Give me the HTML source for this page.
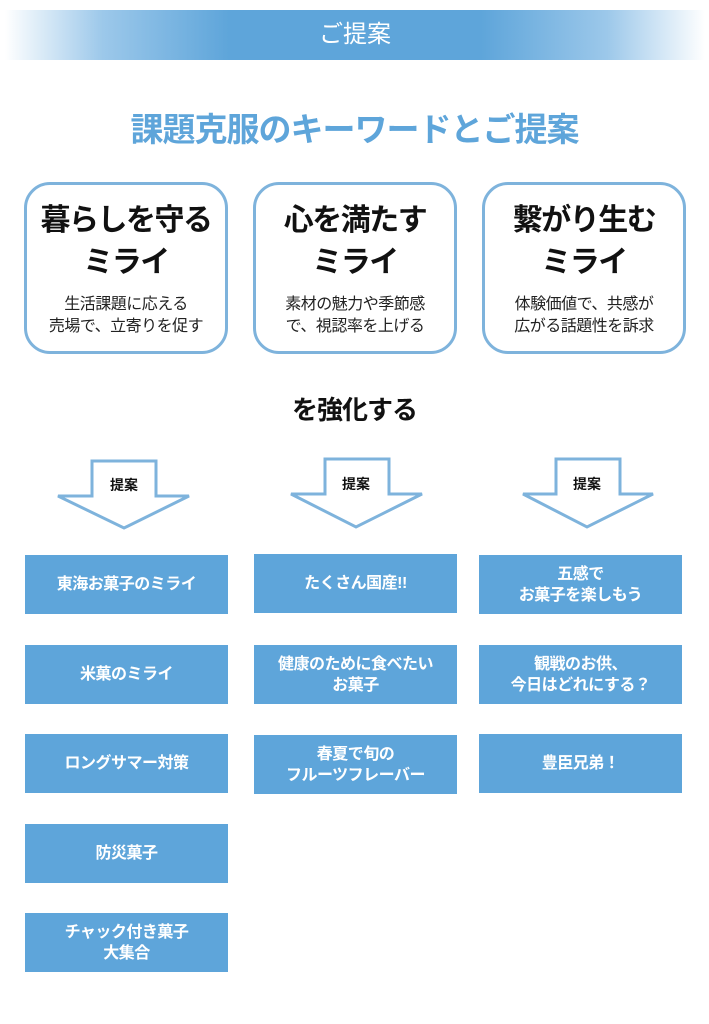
<!DOCTYPE html>
<html><head><meta charset="utf-8"><style>
body{margin:0;width:709px;height:1024px;background:#fff;position:relative;overflow:hidden;font-family:"Liberation Sans","Noto Sans CJK JP",sans-serif}
.hdr{position:absolute;left:5px;top:10px;width:700px;height:50px;background:linear-gradient(90deg,#fff 0%,#9cc8ea 14%,#5ea5da 32%,#5ea5da 68%,#9cc8ea 86%,#fff 100%);color:#fff;font-size:24px;text-align:center;line-height:50px}
.title{position:absolute;left:0;width:709px;top:103px;text-align:center;font-size:33px;font-weight:bold;color:#5ea5da;letter-spacing:-1px}
.card{position:absolute;top:182px;width:198px;height:166px;border:3px solid #7eb3dc;border-radius:26px;text-align:center}
.card .h{font-size:30px;font-weight:bold;line-height:42px;margin-top:15px;color:#111;letter-spacing:-1.5px}
.card .s{font-size:16px;line-height:22px;margin-top:10px;color:#222;letter-spacing:-0.5px}
.sub{position:absolute;left:0;width:709px;top:390px;text-align:center;font-size:26px;font-weight:bold;color:#111;letter-spacing:-1px}
.btn{position:absolute;width:203px;height:59px;background:#5ea5da;color:#fff;font-weight:bold;font-size:16px;display:flex;align-items:center;justify-content:center;text-align:center;line-height:21px;letter-spacing:-0.5px}
svg{position:absolute;left:0;top:0}
</style></head><body>
<div class="hdr">ご提案</div>
<div class="title">課題克服のキーワードとご提案</div>
<div class="card" style="left:24px"><div class="h">暮らしを守る<br>ミライ</div><div class="s">生活課題に応える<br>売場で、立寄りを促す</div></div>
<div class="card" style="left:253px"><div class="h">心を満たす<br>ミライ</div><div class="s">素材の魅力や季節感<br>で、視認率を上げる</div></div>
<div class="card" style="left:482px"><div class="h">繋がり生む<br>ミライ</div><div class="s">体験価値で、共感が<br>広がる話題性を訴求</div></div>
<div class="sub">を強化する</div>
<svg width="709" height="1024">
<g fill="#fff" stroke="#7eb3dc" stroke-width="3">
<polygon points="92,461 156,461 156,496 189,496 124,528 58,496 92,496"/>
<polygon points="325,459 389,459 389,494 422,494 356,527 291,494 325,494"/>
<polygon points="556,459 620,459 620,494 653,494 587,527 523,494 556,494"/>
</g>
<g font-size="14" font-weight="bold" fill="#111" text-anchor="middle" font-family="Liberation Sans,Noto Sans CJK JP,sans-serif">
<text x="124" y="490">提案</text><text x="356" y="489">提案</text><text x="587" y="489">提案</text>
</g></svg>
<div class="btn" style="left:25px;top:555px">東海お菓子のミライ</div>
<div class="btn" style="left:25px;top:645px">米菓のミライ</div>
<div class="btn" style="left:25px;top:734px">ロングサマー対策</div>
<div class="btn" style="left:25px;top:824px">防災菓子</div>
<div class="btn" style="left:25px;top:913px">チャック付き菓子<br>大集合</div>
<div class="btn" style="left:254px;top:554px">たくさん国産!!</div>
<div class="btn" style="left:254px;top:645px">健康のために食べたい<br>お菓子</div>
<div class="btn" style="left:254px;top:735px">春夏で旬の<br>フルーツフレーバー</div>
<div class="btn" style="left:479px;top:555px">五感で<br>お菓子を楽しもう</div>
<div class="btn" style="left:479px;top:645px">観戦のお供、<br>今日はどれにする？</div>
<div class="btn" style="left:479px;top:734px">豊臣兄弟！</div>
</body></html>
